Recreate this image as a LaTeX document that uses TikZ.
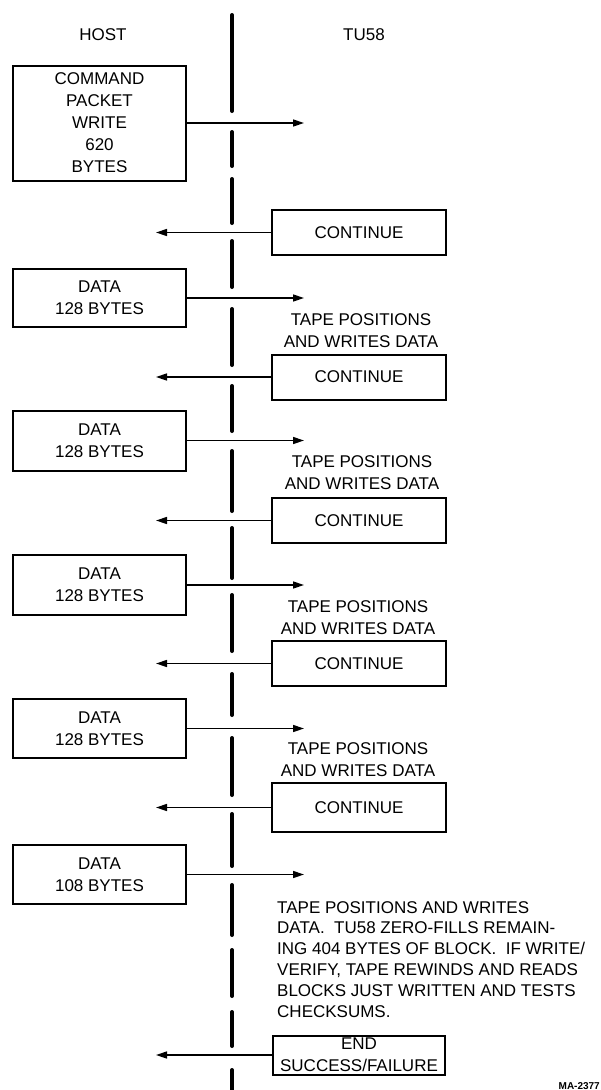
\documentclass[tikz,border=0pt]{standalone}
\usepackage{fontspec}
\setmainfont{Liberation Sans}
\usetikzlibrary{arrows.meta}
\begin{document}
\begin{tikzpicture}[x=1pt,y=-1pt,font=\fontsize{17}{22}\selectfont,
  hostbox/.style={draw,line width=2pt,minimum width=173pt,align=center,inner sep=0pt},
  tubox/.style={draw,line width=2pt,minimum width=174pt,minimum height=45pt,align=center,inner sep=0pt},
  tpnote/.style={align=center,inner sep=0pt},
  msg/.style={line width=1.5pt,-{Triangle[length=11pt,width=7pt]}}]
\useasboundingbox (0,0) rectangle (601,1090);
\node (host) at (103,35) {HOST};
\node (tu) at (364,35) {TU58};
% the line between host and TU58
\draw [line width=4pt,line cap=round] (232,15) -- (232,111) (232,132) -- (232,166) (232,179) -- (232,223) (232,241) -- (232,287) (232,309) -- (232,365) (232,386) -- (232,431) (232,451) -- (232,511) (232,528) -- (232,578) (232,595) -- (232,651) (232,674) -- (232,715) (232,738) -- (232,795) (232,814) -- (232,866) (232,885) -- (232,935) (232,950) -- (232,996) (232,1012) -- (232,1046) (232,1070) -- (232,1095);
\coordinate (rtip) at (304,0);
\coordinate (ltip) at (156,0);
\node[hostbox,minimum height=115pt] (cmd) at (99.5,123) {COMMAND\\PACKET\\WRITE\\620\\BYTES};
\node[tubox] (cont1) at (359,232.5) {CONTINUE};
\node[hostbox,minimum height=58pt] (data1) at (99.5,298) {DATA\\128 BYTES};
\node[tpnote] (pos1) at (361,330.5) {TAPE POSITIONS\\AND WRITES DATA};
\node[tubox] (cont2) at (359,377) {CONTINUE};
\node[hostbox,minimum height=60pt] (data2) at (99.5,440.5) {DATA\\128 BYTES};
\node[tpnote] (pos2) at (362,472.5) {TAPE POSITIONS\\AND WRITES DATA};
\node[tubox] (cont3) at (359,520.5) {CONTINUE};
\node[hostbox,minimum height=60pt] (data3) at (99.5,585) {DATA\\128 BYTES};
\node[tpnote] (pos3) at (358,618) {TAPE POSITIONS\\AND WRITES DATA};
\node[tubox] (cont4) at (359,663.5) {CONTINUE};
\node[hostbox,minimum height=59pt] (data4) at (99.5,728.5) {DATA\\128 BYTES};
\node[tpnote] (pos4) at (358,760) {TAPE POSITIONS\\AND WRITES DATA};
\node[tubox,minimum height=49pt] (cont5) at (359,807.5) {CONTINUE};
\node[hostbox,minimum height=59pt] (data5) at (99.5,874.5) {DATA\\108 BYTES};
\node[anchor=north west,align=left,inner sep=0pt,font=\fontsize{17}{20.8}\selectfont] (fill) at (277,901) {TAPE POSITIONS AND WRITES\\DATA.~ TU58 ZERO-FILLS REMAIN-\\ING 404 BYTES OF BLOCK.~ IF WRITE/\\VERIFY, TAPE REWINDS AND READS\\BLOCKS JUST WRITTEN AND TESTS\\CHECKSUMS.};
\node[tubox,minimum width=172pt,minimum height=39pt] (fin) at (359,1055) {END\\SUCCESS/FAILURE};
\node[anchor=south east,inner sep=0pt,font=\fontsize{10}{12}\selectfont\bfseries] (fig) at (600,1090) {MA-2377};
% messages
\draw[msg] (cmd.east) -- (cmd.east -| rtip);
\draw[msg] (cont1.west) -- (cont1.west -| ltip);
\draw[msg] (data1.east) -- (data1.east -| rtip);
\draw[msg] (cont2.west) -- (cont2.west -| ltip);
\draw[msg] (data2.east) -- (data2.east -| rtip);
\draw[msg] (cont3.west) -- (cont3.west -| ltip);
\draw[msg] (data3.east) -- (data3.east -| rtip);
\draw[msg] (cont4.west) -- (cont4.west -| ltip);
\draw[msg] (data4.east) -- (data4.east -| rtip);
\draw[msg] (cont5.west) -- (cont5.west -| ltip);
\draw[msg] (data5.east) -- (data5.east -| rtip);
\draw[msg] (fin.west) -- (fin.west -| ltip);
\end{tikzpicture}
\end{document}
